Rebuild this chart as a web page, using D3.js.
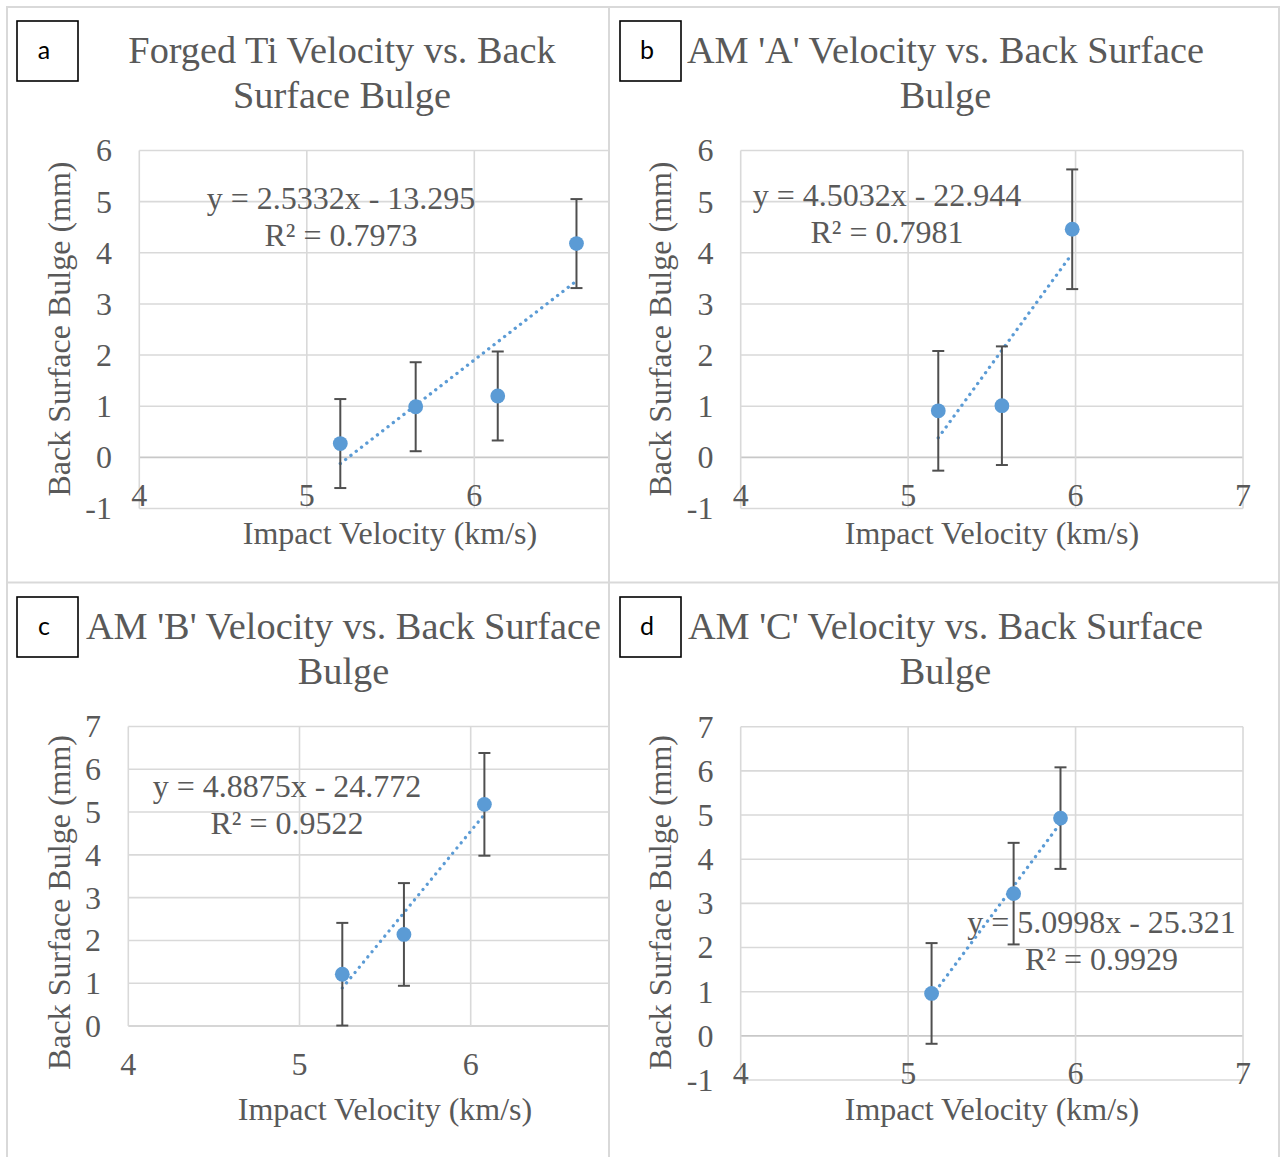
<!DOCTYPE html>
<html>
<head>
<meta charset="utf-8">
<script src="https://cdn.jsdelivr.net/npm/d3@7"></script>
<style>
body { margin: 0; background: #fff; }
svg text { font-family: "Liberation Serif", "Times New Roman", serif; fill: #595959; }
</style>
</head>
<body>
<div id="chart"></div>
<script>
var width = 1281,
    height = 1157;

// a - Forged Ti
var velForged = [5.20, 5.65, 6.14, 6.61];
var bulgeForged = [0.27, 0.99, 1.20, 4.18];
var errForged = [0.87, 0.87, 0.87, 0.87];
// b - AM 'A'
var velA = [5.18, 5.56, 5.98];
var bulgeA = [0.91, 1.01, 4.46];
var errA = [1.17, 1.16, 1.17];
// c - AM 'B'
var velB = [5.25, 5.61, 6.08];
var bulgeB = [1.21, 2.14, 5.18];
var errB = [1.20, 1.20, 1.20];
// d - AM 'C'
var velC = [5.14, 5.63, 5.91];
var bulgeC = [0.96, 3.22, 4.93];
var errC = [1.14, 1.15, 1.15];

var panelLetters = ["a", "b", "c", "d"];
var titleLines = [
    ["Forged Ti Velocity vs. Back", "Surface Bulge"],
    ["AM 'A' Velocity vs. Back Surface", "Bulge"],
    ["AM 'B' Velocity vs. Back Surface", "Bulge"],
    ["AM 'C' Velocity vs. Back Surface", "Bulge"]
];
var slopes = [2.5332, 4.5032, 4.8875, 5.0998];
var intercepts = [-13.295, -22.944, -24.772, -25.321];
var rSquared = ["0.7973", "0.7981", "0.9522", "0.9929"];

var xTicks = [4, 5, 6, 7];
var yDomains = [[-1, 6], [-1, 6], [0, 7], [-1, 7]];
var xTitle = "Impact Velocity (km/s)";
var yTitle = "Back Surface Bulge (mm)";

var series = [
    {vel: velForged, bulge: bulgeForged, err: errForged},
    {vel: velA, bulge: bulgeA, err: errA},
    {vel: velB, bulge: bulgeB, err: errB},
    {vel: velC, bulge: bulgeC, err: errC}
];

// where each chart sits in the 2x2 table
var layout = [
    {cell: [8, 8, 600, 574], box: [17, 21], titleX: 342, titleY: 62.5, xr: [139.3, 641.8], yr: [508.5, 150.5], yTickX: 112, yTitleXY: [69.5, 329], xTitleXY: [390, 544], eqXY: [341, 209]},
    {cell: [610, 8, 668, 574], box: [620, 21], titleX: 945.5, titleY: 62.5, xr: [740.7, 1243], yr: [508.5, 150.5], yTickX: 713.5, yTitleXY: [671, 329], xTitleXY: [992, 544], eqXY: [887, 206]},
    {cell: [8, 584, 600, 573], box: [17, 597], titleX: 343.5, titleY: 639, xr: [128.3, 641.9], yr: [1026, 726.5], yTickX: 101, yTitleXY: [69.5, 902.5], xTitleXY: [385, 1120], eqXY: [287, 797.3]},
    {cell: [610, 584, 668, 573], box: [620, 597], titleX: 945.5, titleY: 639, xr: [740.7, 1243], yr: [1080, 726.7], yTickX: 713.5, yTitleXY: [671, 902.5], xTitleXY: [992, 1120], eqXY: [1101.5, 933.3]}
];

var svg = d3.select("#chart").append("svg")
    .attr("width", width)
    .attr("height", height);

// table borders
var grey = "#d9d9d9";
[7, 609, 1279].forEach(function(x) {
    svg.append("line").attr("x1", x).attr("x2", x).attr("y1", 6).attr("y2", height)
        .attr("stroke", grey).attr("stroke-width", 2);
});
[7, 582.5].forEach(function(y) {
    svg.append("line").attr("x1", 6).attr("x2", 1280).attr("y1", y).attr("y2", y)
        .attr("stroke", grey).attr("stroke-width", 2);
});

var defs = svg.append("defs");

layout.forEach(function(L, i) {
    var s = series[i];
    defs.append("clipPath").attr("id", "clip" + i)
        .append("rect")
        .attr("x", L.cell[0]).attr("y", L.cell[1])
        .attr("width", L.cell[2]).attr("height", L.cell[3]);

    var g = svg.append("g").attr("clip-path", "url(#clip" + i + ")");

    var x = d3.scaleLinear().domain([4, 7]).range(L.xr);
    var y = d3.scaleLinear().domain(yDomains[i]).range(L.yr);
    var yTicks = d3.range(yDomains[i][0], yDomains[i][1] + 1);

    // gridlines
    g.selectAll(".hgrid").data(yTicks).enter().append("line")
        .attr("x1", L.xr[0]).attr("x2", L.xr[1])
        .attr("y1", function(d) { return y(d); })
        .attr("y2", function(d) { return y(d); })
        .attr("stroke", function(d) { return d == 0 ? "#c8c8c8" : grey; })
        .attr("stroke-width", 1.6);
    g.selectAll(".vgrid").data(xTicks).enter().append("line")
        .attr("x1", function(d) { return x(d); })
        .attr("x2", function(d) { return x(d); })
        .attr("y1", L.yr[0]).attr("y2", L.yr[1])
        .attr("stroke", grey)
        .attr("stroke-width", 1.6);

    // tick labels
    g.selectAll(".ytick").data(yTicks).enter().append("text")
        .attr("x", L.yTickX)
        .attr("y", function(d) { return y(d); })
        .attr("dy", "0.34em")
        .attr("text-anchor", "end")
        .style("font-size", "32px")
        .text(function(d) { return d < 0 ? "-" + Math.abs(d) : d; });
    g.selectAll(".xtick").data(xTicks).enter().append("text")
        .attr("x", function(d) { return x(d); })
        .attr("y", y(0) + 48.5)
        .attr("text-anchor", "middle")
        .style("font-size", "32px")
        .text(function(d) { return d; });

    // axis titles
    g.append("text")
        .attr("transform", "translate(" + L.yTitleXY[0] + "," + L.yTitleXY[1] + ")rotate(-90)")
        .attr("text-anchor", "middle")
        .style("font-size", "32px")
        .text(yTitle);
    g.append("text")
        .attr("x", L.xTitleXY[0]).attr("y", L.xTitleXY[1])
        .attr("text-anchor", "middle")
        .style("font-size", "32px")
        .text(xTitle);

    // chart title
    titleLines[i].forEach(function(t, k) {
        g.append("text")
            .attr("x", L.titleX).attr("y", L.titleY + k * 45)
            .attr("text-anchor", "middle")
            .style("font-size", "38.3px")
            .text(t);
    });

    // trendline label
    var eq = ["y = " + slopes[i] + "x - " + Math.abs(intercepts[i]), "R\u00b2 = " + rSquared[i]];
    eq.forEach(function(t, k) {
        g.append("text")
            .attr("x", L.eqXY[0]).attr("y", L.eqXY[1] + k * 36.5)
            .attr("text-anchor", "middle")
            .style("font-size", "32px")
            .text(t);
    });

    // linear trendline over the data range
    var ext = d3.extent(s.vel);
    var trend = ext.map(function(v) { return [v, slopes[i] * v + intercepts[i]]; });
    g.append("path")
        .attr("d", d3.line().x(function(d) { return x(d[0]); }).y(function(d) { return y(d[1]); })(trend))
        .attr("fill", "none")
        .attr("stroke", "#5b9bd5")
        .attr("stroke-width", 3.3)
        .attr("stroke-linecap", "round")
        .attr("stroke-dasharray", "0.1 6.6");

    var pts = s.vel.map(function(v, k) { return {v: v, b: s.bulge[k], e: s.err[k]}; });

    // error bars
    var eb = g.selectAll(".err" + i).data(pts).enter().append("g");
    eb.append("line")
        .attr("x1", function(d) { return x(d.v); }).attr("x2", function(d) { return x(d.v); })
        .attr("y1", function(d) { return y(d.b - d.e); }).attr("y2", function(d) { return y(d.b + d.e); })
        .attr("stroke", "#4f4f4f").attr("stroke-width", 2);
    [-1, 1].forEach(function(sgn) {
        eb.append("line")
            .attr("x1", function(d) { return x(d.v) - 6; }).attr("x2", function(d) { return x(d.v) + 6; })
            .attr("y1", function(d) { return y(d.b + sgn * d.e); }).attr("y2", function(d) { return y(d.b + sgn * d.e); })
            .attr("stroke", "#4f4f4f").attr("stroke-width", 2);
    });

    // markers
    g.selectAll(".pt" + i).data(pts).enter().append("circle")
        .attr("cx", function(d) { return x(d.v); })
        .attr("cy", function(d) { return y(d.b); })
        .attr("r", 7.4)
        .attr("fill", "#5b9bd5");

    // panel letter box
    svg.append("rect")
        .attr("x", L.box[0]).attr("y", L.box[1])
        .attr("width", 61).attr("height", 60)
        .attr("fill", "#fff")
        .attr("stroke", "#000")
        .attr("stroke-width", 1.6);
    svg.append("text")
        .attr("x", L.box[0] + 27).attr("y", L.box[1] + 38)
        .attr("text-anchor", "middle")
        .style("font-family", "Lato, 'Liberation Sans', sans-serif")
        .style("font-size", "25px")
        .style("fill", "#000")
        .text(panelLetters[i]);
});
</script>
</body>
</html>
